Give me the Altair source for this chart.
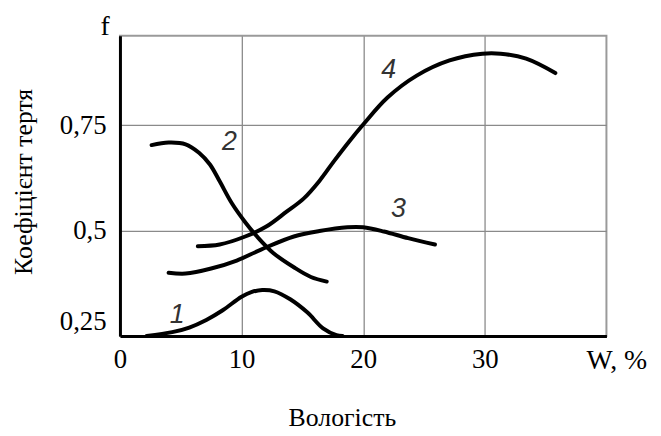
import altair as alt
import pandas as pd

# ---- data ----
c1_w = [2.2, 4.3, 5.7, 7.1, 8.45, 10.0, 10.8, 11.7, 12.7, 14.0, 15.4, 16.7, 17.8, 18.3]
c1_f = [0.25, 0.259, 0.27, 0.288, 0.311, 0.343, 0.354, 0.359, 0.356, 0.337, 0.306, 0.268, 0.252, 0.25]

c2_w = [2.6, 4.0, 5.4, 6.5, 7.4, 8.2, 9.2, 10.3, 11.3, 12.6, 14.3, 15.7, 17.0]
c2_f = [0.703, 0.709, 0.705, 0.685, 0.657, 0.617, 0.565, 0.52, 0.485, 0.447, 0.413, 0.39, 0.379]

c3_w = [4.0, 5.4, 7.5, 9.6, 11.6, 14.3, 16.4, 18.7, 20.0, 21.7, 23.7, 25.9]
c3_f = [0.40, 0.398, 0.41, 0.429, 0.455, 0.486, 0.499, 0.508, 0.508, 0.498, 0.482, 0.467]

c4_w = [6.4, 8.2, 10.3, 12.0, 13.7, 15.1, 16.4, 17.6, 18.8, 20.0, 22.0, 24.4, 27.1, 29.8, 31.3, 33.4, 35.8]
c4_f = [0.463, 0.467, 0.486, 0.509, 0.545, 0.576, 0.618, 0.665, 0.71, 0.752, 0.816, 0.868, 0.904, 0.92, 0.92, 0.908, 0.874]

curve_names = ["1", "2", "3", "4"]
label_w = [4.7, 9.0, 22.9, 22.1]
label_f = [0.30, 0.71, 0.551, 0.88]

x_ticks = [0, 10, 20, 30]
x_domain = [0, 40]
y_ticks = [0.25, 0.5, 0.75]
y_tick_labels = ["0,25", "0,5", "0,75"]
y_domain = [0.25, 0.9626]

x_title = "Вологість"
y_title = "Коефіцієнт тертя"
x_unit = "W, %"
y_unit = "f"

SERIF = "'Liberation Serif', 'Times New Roman', Times, serif"

# ---- tables ----
rows = []
for name, ws, fs in zip(curve_names, [c1_w, c2_w, c3_w, c4_w], [c1_f, c2_f, c3_f, c4_f]):
    for w, f in zip(ws, fs):
        rows.append({"curve": name, "W": w, "f": f})
df = pd.DataFrame(rows)

lab_df = pd.DataFrame({"curve": curve_names, "W": label_w, "f": label_f})
f_df = pd.DataFrame({"W": [x_domain[0]], "f": [y_domain[1]], "t": [y_unit]})
w_df = pd.DataFrame({"W": [x_domain[1]], "f": [y_domain[0]], "t": [x_unit]})

y_expr = ""
for v, l in zip(y_ticks, y_tick_labels):
    y_expr += f"datum.value == {v} ? '{l}' : "
y_expr += "''"

x_scale = alt.Scale(domain=x_domain, nice=False, zero=False)
y_scale = alt.Scale(domain=y_domain, nice=False, zero=False)

x_axis = alt.Axis(
    values=x_ticks, format="d", title=x_title, grid=True,
    labelPadding=11, labelFlush=False, labelFontSize=27,
    titleFontSize=26, titleX=224, titleY=90, titleAlign="center",
    titleBaseline="alphabetic", titleAnchor="start",
)
y_axis = alt.Axis(
    values=y_ticks, labelExpr=y_expr, title=y_title, grid=True,
    labelPadding=14, labelFlush=True, labelFontSize=27,
    titleFontSize=26, titleX=-97, titleY=147, titleAngle=270,
    titleAlign="center", titleBaseline="middle",
)

lines = alt.Chart(df).mark_line(
    interpolate="catmull-rom", strokeWidth=4, color="black", strokeCap="round"
).encode(
    x=alt.X("W:Q", scale=x_scale, axis=x_axis),
    y=alt.Y("f:Q", scale=y_scale, axis=y_axis),
    detail="curve:N",
)

labels = alt.Chart(lab_df).mark_text(
    font="'Liberation Sans', Arial, sans-serif", fontStyle="italic", fontSize=27, color="#333333",
    align="center", baseline="middle",
).encode(x=alt.X("W:Q", scale=x_scale), y=alt.Y("f:Q", scale=y_scale), text="curve:N")

f_text = alt.Chart(f_df).mark_text(
    font=SERIF, fontSize=28, color="black",
    align="center", baseline="alphabetic", dx=-15, dy=-1,
).encode(x=alt.X("W:Q", scale=x_scale), y=alt.Y("f:Q", scale=y_scale), text="t:N")

w_text = alt.Chart(w_df).mark_text(
    font=SERIF, fontSize=28, color="black",
    align="left", baseline="middle", dx=-20, dy=25,
).encode(x=alt.X("W:Q", scale=x_scale), y=alt.Y("f:Q", scale=y_scale), text="t:N")

chart = alt.layer(lines, labels, f_text, w_text).properties(
    width=491, height=303,
    padding={"left": 113, "top": 26, "right": 47, "bottom": 99},
    autosize=alt.AutoSizeParams(type="none"),
    background="white",
).configure_axis(
    gridColor="#8a8a8a", gridWidth=1.3, domainColor="black", domainWidth=3,
    ticks=False, labelFont=SERIF, labelColor="black",
    titleFont=SERIF, titleFontWeight="normal", titleColor="black",
).configure_text(font=SERIF).configure_view(stroke="#9a9a9a", strokeWidth=2)

chart.save("out.html", embed_options={"renderer": "svg", "actions": False})
